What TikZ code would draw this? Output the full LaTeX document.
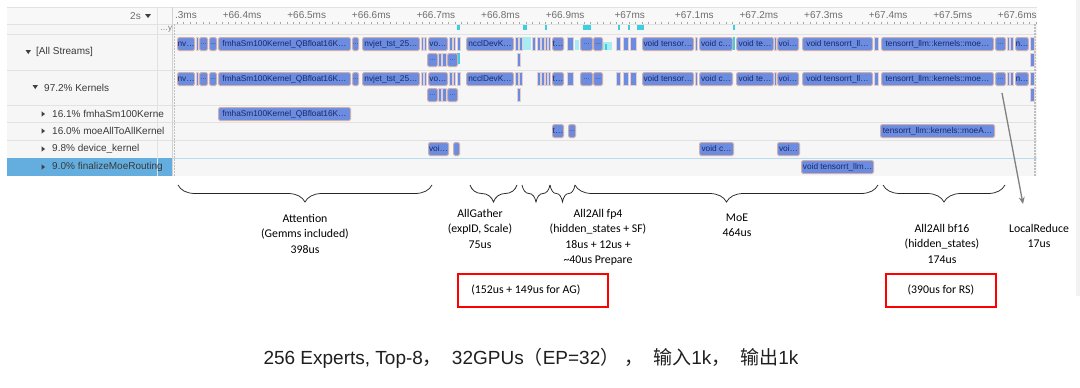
\documentclass[tikz,border=0pt]{standalone}
\usepackage{fontspec}
\setmainfont{Liberation Sans}
\newfontfamily\calfont{Carlito}
\newfontfamily\cjkfont{Noto Sans CJK SC}
\usetikzlibrary{decorations.pathreplacing,arrows.meta}
\definecolor{kblue}{HTML}{6C8CE0}
\definecolor{kborder}{HTML}{CFAEAE}
\definecolor{ktext}{HTML}{17296A}
\definecolor{panelbg}{HTML}{F6F6F6}
\definecolor{headbg}{HTML}{F8F8F8}
\definecolor{divline}{HTML}{E2E2E2}
\definecolor{hlblue}{HTML}{64AEDF}
\definecolor{cyanA}{HTML}{3CCFE0}
\definecolor{cyanB}{HTML}{A6ECF2}
\definecolor{lbltext}{HTML}{3A3A3A}
\definecolor{ticktext}{HTML}{6E6E6E}
\definecolor{redbox}{HTML}{FF0000}
\definecolor{arrgray}{HTML}{808080}
\begin{document}
\begin{tikzpicture}[x=1pt,y=-1pt,
  kbox/.style={draw=kborder, line width=1pt, fill=kblue, rounded corners=1.5pt, inner sep=0pt,
    minimum height=13pt, text=ktext, font=\fontsize{8.3}{9}\selectfont, anchor=north west},
  kdot/.style={kbox, font=\fontsize{6}{7}\selectfont},
  kbar/.style={draw=kborder!60, line width=0.5pt, fill=kblue, inner sep=0pt, minimum height=13pt, anchor=north west},
  lbl/.style={anchor=west, inner sep=0pt, text=lbltext, font=\fontsize{10}{12}\selectfont},
  tick/.style={inner sep=0pt, text=ticktext, font=\fontsize{10}{12}\selectfont},
  bracedeco/.style={draw=black!85, line width=0.75pt, decorate, decoration={brace, mirror, amplitude=17pt}},
  ann/.style={anchor=north, align=center, inner sep=0pt, font=\calfont\fontsize{11.8}{15.4}\selectfont},
  rbox/.style={draw=redbox, line width=1.8pt, inner sep=0pt, minimum height=33pt, anchor=north west,
    font=\calfont\fontsize{11.8}{14}\selectfont},
  garrow/.style={draw=arrgray, line width=1.3pt, -{Stealth[length=7pt,width=6pt]}},
  tri/.style={fill=black!75}
]
\useasboundingbox (0,0) rectangle (1080,388);
\fill[white] (0,0) rectangle (1080,388);
\fill[black!5] (1076,0) rectangle (1080,296);

% panel
\fill[panelbg] (7,7) rectangle (1037,176);
\fill[headbg] (7,7) rectangle (1037,24);
\draw[divline, line width=1pt] (7,7) -- (1037,7);
\foreach \yy in {24,34,70,105,122,140} \draw[divline, line width=0.8pt] (7,\yy) -- (1037,\yy);
\draw[divline, line width=0.8pt] (7,158) -- (172,158);
\draw[hlblue!45, line width=0.8pt] (172,158) -- (1037,158);
\fill[hlblue] (7,158) rectangle (172,176);
\draw[divline, line width=0.8pt] (157,7) -- (157,176);
\draw[black!18, line width=0.8pt] (172,7) -- (172,176);
\draw[black!25, line width=1.4pt, dash pattern=on 2pt off 1pt] (174.5,24) -- (174.5,176);
\draw[black!25, line width=1.4pt, dash pattern=on 2pt off 1pt] (1035,24) -- (1035,176);

% header
\node[tick, anchor=east] (hdr2s) at (141,16) {2s};
\fill[tri] (145,14) -- (151,14) -- (148,18) -- cycle;
\node[inner sep=0pt, text=black!55, font=\fontsize{8}{9}\selectfont] (hdry) at (166,29) {…y};
\begin{scope}
\clip (175,7) rectangle (1037,24);
\foreach \lab [count=\k from 0] in {+66.3ms,+66.4ms,+66.5ms,+66.6ms,+66.7ms,+66.8ms,+66.9ms,+67ms,+67.1ms,+67.2ms,+67.3ms,+67.4ms,+67.5ms,+67.6ms}
  \node[tick] (tk\k) at ({177.5+64.6*\k},15.5) {\lab};
\foreach \m in {0,...,133} \draw[black!35, line width=0.5pt] ({177+6.46*\m},21.5) -- ({177+6.46*\m},24);
\end{scope}

% left labels
\fill[tri] (25.5,50) -- (31,50) -- (28.25,54) -- cycle;
\node[lbl] (lAll) at (36,52) {[All Streams]};
\fill[tri] (32.5,85) -- (38,85) -- (35.25,89) -- cycle;
\node[lbl] (lKer) at (44,87.5) {97.2\% Kernels};
\foreach \yy/\txt/\nm in {114/16.1\% fmhaSm100Kerne/lFm, 131/16.0\% moeAllToAllKernel/lMoe, 149/9.8\% device\_kernel/lDev, 167/9.0\% finalizeMoeRouting/lFin}{
  \fill[tri] (41.5,\yy-2.7) -- (41.5,\yy+2.7) -- (45,\yy) -- cycle;
  \node[lbl] (\nm) at (52,\yy) {\txt};
}

% cyan markers
\foreach \xa/\xb in {457/460,523/527,545/547,583/591,618/620,628/630,637/644,733/735}
  \fill[cyanA] (\xa,24.5) rectangle (\xb,30);
\fill[cyanB] (523,37) rectangle (531,50);
\fill[cyanB] (575,40) rectangle (579,50);
\fill[cyanB] (600,42) rectangle (612,50);
\fill[cyanA] (605,44) rectangle (607,50);
\fill[cyanA] (733,37) rectangle (735,50);
\fill[cyanA] (457,53) rectangle (460,64);

% rows with boxes (All Streams: 37/53, Kernels: 72/88)
\foreach \ya/\yb/\R in {37/53/A,72/88/K}{
  \foreach \xa/\xb/\t [count=\i] in {177/194/{nv…},218/350/{fmhaSm100Kernel\_QBfloat16K…},362/419/{nvjet\_tst\_25…},
     428/447/{vo…},466/513/{ncclDevK…},552/563/{t…},642/693/{void tensor…},699/732/{void c…},
     736/773/{void te…},777/798/{voi…},802/872/{void tensorrt\_ll…},881/993/{tensorrt\_llm::kernels::moe…},1015/1027/{n…}}
    \node[kbox, minimum width={\xb-\xa}] (\R t\i) at (\xa,\ya) {\t};
  \foreach \xa/\xb [count=\i] in {199/207,209/216,352/358,580/592,593/602,995/1005}
    \node[kdot, minimum width={\xb-\xa}] (\R d\i) at (\xa,\ya) {…};
  \foreach \xa/\xb [count=\i] in {196/198,421/423,424/426,449/452,453/455,457/460,515/518,519/522,537/540,541/544,545/547,548/550,567/573,616/620,623/628,630/636,695/697,774/776,874/878,1007/1009,1010/1013,1030/1034}
    \node[kbar, minimum width={\xb-\xa}] (\R b\i) at (\xa,\ya) {};
  \foreach \xa/\xb [count=\i] in {427/437,447/457}
    \node[kdot, minimum width={\xb-\xa}] (\R sd\i) at (\xa,\yb) {…};
  \foreach \xa/\xb [count=\i] in {438/441,442/446,517/520,1030/1034}
    \node[kbar, minimum width={\xb-\xa}] (\R sb\i) at (\xa,\yb) {};
}
\node[kbar, minimum width=3] (Aextra) at (532,37) {};

% fmha row
\node[kbox, minimum width=132] (fm1) at (218,107) {fmhaSm100Kernel\_QBfloat16K…};
% moe row
\node[kbox, minimum width=11] (mo1) at (552,124) {t…};
\node[kdot, minimum width=7] (mo2) at (568,124) {…};
\node[kbox, minimum width=114] (mo3) at (880,124) {tensorrt\_llm::kernels::moeA…};
% device row
\node[kbox, minimum width=20] (dv1) at (428,142) {voi…};
\node[kbox, minimum width=6] (dv2) at (453,142) {};
\node[kbox, minimum width=34] (dv3) at (699,142) {void c…};
\node[kbox, minimum width=22] (dv4) at (777,142) {voi…};
% finalize row
\node[kbox, minimum width=72] (fn1) at (801,160) {void tensorrt\_llm…};

% braces
\coordinate (b1L) at (178,185); \coordinate (b1R) at (432,185);
\coordinate (b2L) at (470,185); \coordinate (b2R) at (517,185);
\coordinate (b3L) at (522,185); \coordinate (b3R) at (550,185);
\coordinate (b4L) at (550,185); \coordinate (b4R) at (575,185);
\coordinate (b5L) at (575,185); \coordinate (b5R) at (878,185);
\coordinate (b6L) at (883,185); \coordinate (b6R) at (1005,185);
\foreach \p in {1,...,6} \draw[bracedeco] (b\p L) -- (b\p R);

% annotations
\node[ann] (attn) at (305,214) {Attention\\(Gemms included)\\398us};
\node[ann] (ag) at (480,209) {AllGather\\(expID, Scale)\\75us};
\node[ann] (fp4) at (598,209) {All2All fp4\\(hidden\_states + SF)\\18us + 12us +\\\textasciitilde40us Prepare};
\node[ann] (moe) at (737,213.5) {MoE\\464us};
\node[ann] (bf16) at (942,224) {All2All bf16\\(hidden\_states)\\174us};
\node[ann] (lr) at (1039,224) {LocalReduce\\17us};

% red boxes
\node[rbox, minimum width=150] (agbox) at (457,273) {(152us + 149us for AG)\hspace*{14pt}};
\node[rbox, minimum width=110] (rsbox) at (885,273) {(390us for RS)};

% arrow
\coordinate (arS) at (1002,93);
\coordinate (arE) at (1023,204);
\draw[garrow] (arS) -- (arE);

% caption
\node[inner sep=0pt, font=\fontsize{19}{22}\selectfont, text=black!88] (caption) at (531,358)
  {256 Experts, Top-8{\cjkfont ，}\hspace{10pt}32GPUs{\cjkfont （}EP=32{\cjkfont ）}\hspace{5pt}{\cjkfont ，}\hspace{10pt}{\cjkfont 输入}1k{\cjkfont ，}\hspace{10pt}{\cjkfont 输出}1k};
\end{tikzpicture}
\end{document}
